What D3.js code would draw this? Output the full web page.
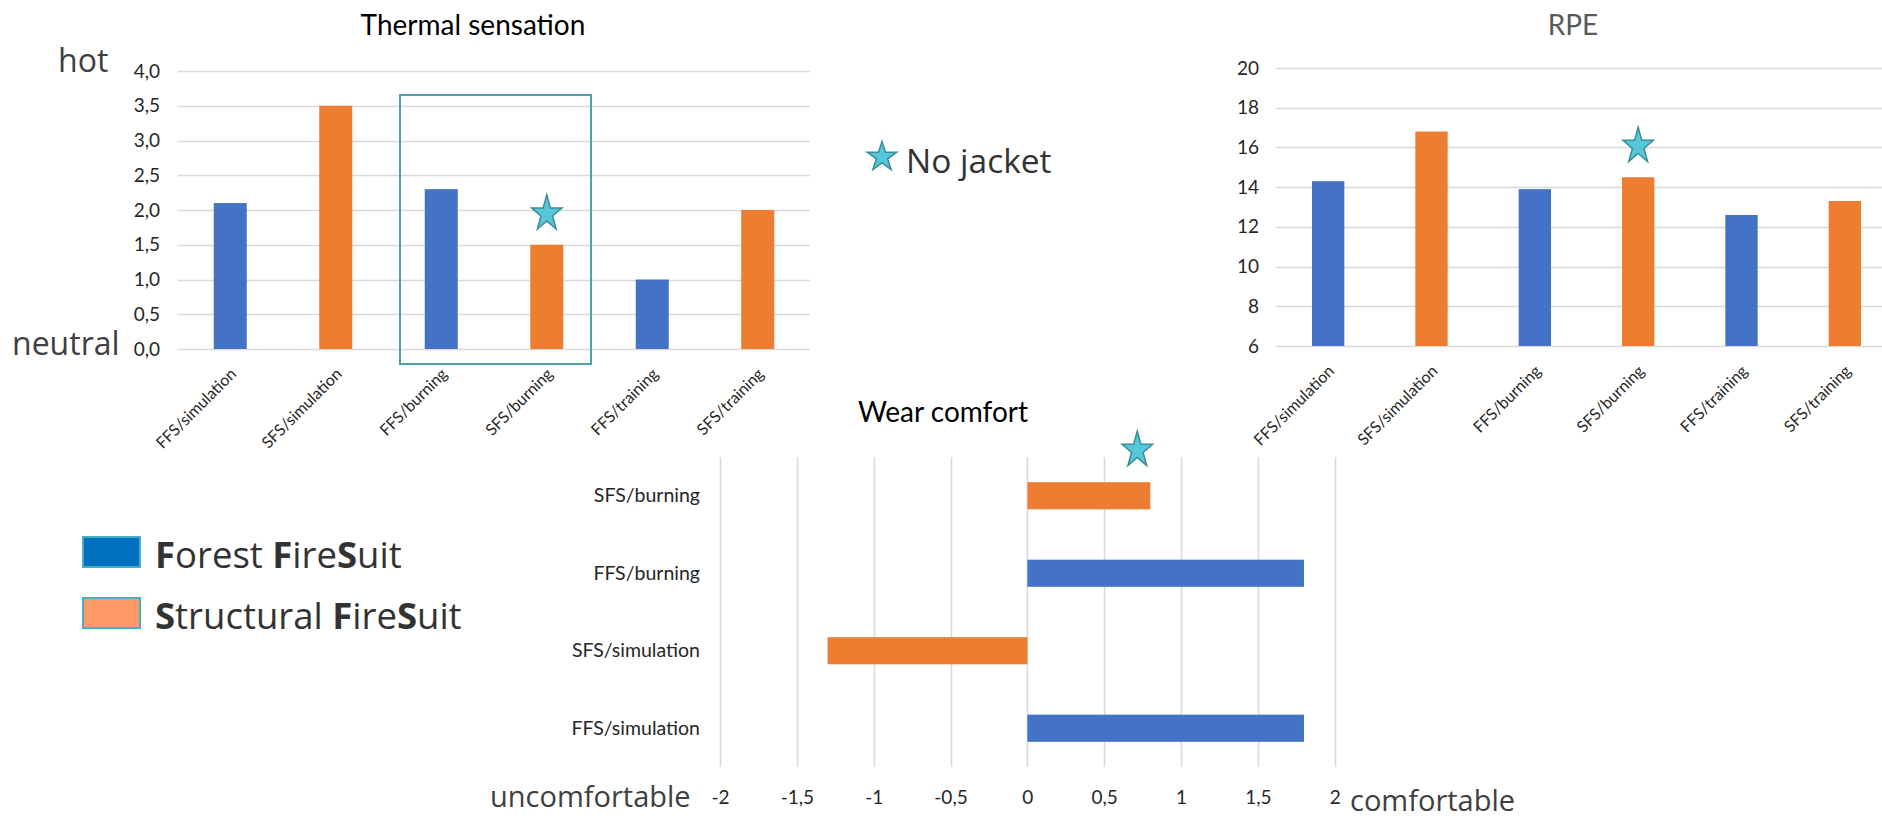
<!DOCTYPE html>
<html>
<head>
<meta charset="utf-8">
<script src="https://cdn.jsdelivr.net/npm/d3@7"></script>
<style>
  html, body { margin: 0; padding: 0; background: #fff; }
  svg { display: block; }
</style>
</head>
<body>
<svg id="chart" width="1882" height="819"></svg>
<script>
// ---- data ----
const thermalCats = ["FFS/simulation", "SFS/simulation", "FFS/burning", "SFS/burning", "FFS/training", "SFS/training"];
const thermalValues = [2.1, 3.5, 2.3, 1.5, 1.0, 2.0];
const thermalTicks = [0, 0.5, 1, 1.5, 2, 2.5, 3, 3.5, 4];

const rpeCats = ["FFS/simulation", "SFS/simulation", "FFS/burning", "SFS/burning", "FFS/training", "SFS/training"];
const rpeValues = [14.3, 16.8, 13.9, 14.5, 12.6, 13.3];
const rpeTicks = [6, 8, 10, 12, 14, 16, 18, 20];

const comfortCats = ["FFS/simulation", "SFS/simulation", "FFS/burning", "SFS/burning"];
const comfortValues = [1.8, -1.3, 1.8, 0.8];
const comfortTicks = [-2, -1.5, -1, -0.5, 0, 0.5, 1, 1.5, 2];

const noJacketCat = "SFS/burning";
const legendItems = [
  { parts: [["F", true], ["orest ", false], ["F", true], ["ire", false], ["S", true], ["uit", false]], fill: "#0070C0" },
  { parts: [["S", true], ["tructural ", false], ["F", true], ["ire", false], ["S", true], ["uit", false]], fill: "#FF9966" }
];

// ---- styles ----
const BLUE = "#4472C4", ORANGE = "#ED7D31", GRID = "#D9D9D9";
const STAR_FILL = "#56C7D8", STAR_STROKE = "#3A8E9C";
const chartFont = "Lato, 'Open Sans', sans-serif";
const noteFont = "'Open Sans', 'Noto Sans', sans-serif";
const suitColor = c => c.startsWith("FFS") ? BLUE : ORANGE;

const loc = d3.formatLocale({ decimal: ",", thousands: ".", grouping: [3], currency: ["", ""], minus: "-" });
const fmt1 = loc.format(".1f");
const fmtG = d => loc.format("~g")(d);

const svg = d3.select("#chart");

// five-point star, optionally stretched vertically
function starPath(cx, cy, rx, ry) {
  const pts = [];
  for (let i = 0; i < 10; i++) {
    const a = -Math.PI / 2 + i * Math.PI / 5;
    const k = i % 2 === 0 ? 1 : 0.382;
    pts.push([cx + Math.cos(a) * rx * k, cy + Math.sin(a) * ry * k]);
  }
  return d3.line()(pts) + "Z";
}
function drawStar(g, cx, cy, rx, ry) {
  g.append("path").attr("d", starPath(cx, cy, rx, ry))
    .attr("fill", STAR_FILL).attr("stroke", STAR_STROKE).attr("stroke-width", 1.5)
    .attr("stroke-linejoin", "miter");
}

// vertical column chart with rotated category labels
function columnChart(opt) {
  const g = svg.append("g");
  const x = d3.scaleBand().domain(opt.cats).range([opt.x0, opt.x1]).padding(0);
  const y = d3.scaleLinear().domain(opt.domain).range([opt.yBottom, opt.yTop]);
  const barW = x.bandwidth() * 0.313;

  // horizontal gridlines
  g.append("g").selectAll("line").data(opt.ticks).join("line")
    .attr("x1", opt.x0).attr("x2", opt.gridEnd)
    .attr("y1", d => Math.round(y(d)) + 0.5).attr("y2", d => Math.round(y(d)) + 0.5)
    .attr("stroke", GRID).attr("stroke-width", 1.6);

  // value axis labels
  const ya = d3.axisLeft(y).tickValues(opt.ticks).tickFormat(opt.format).tickSize(0).tickPadding(0);
  const yg = g.append("g").attr("transform", `translate(${opt.labelRight},0)`).call(ya);
  yg.select(".domain").remove();
  yg.selectAll("text").attr("font-family", chartFont).attr("font-size", 19).attr("fill", "#262626");

  // bars
  g.append("g").selectAll("rect").data(opt.values).join("rect")
    .attr("x", (d, i) => x(opt.cats[i]) + (x.bandwidth() - barW) / 2)
    .attr("width", barW)
    .attr("y", d => y(d))
    .attr("height", d => y(opt.domain[0]) - y(d))
    .attr("fill", (d, i) => suitColor(opt.cats[i]));

  // rotated category labels
  g.append("g").selectAll("text").data(opt.cats).join("text")
    .attr("transform", d => `translate(${x(d) + x.bandwidth() / 2 + 7},${opt.yBottom + 26}) rotate(-45)`)
    .attr("text-anchor", "end")
    .attr("font-family", chartFont).attr("font-size", 16).attr("fill", "#262626")
    .text(d => d);

  // title
  g.append("text").attr("x", opt.titleX).attr("y", opt.titleY)
    .attr("text-anchor", "middle").attr("font-family", chartFont)
    .attr("font-size", 28).attr("fill", opt.titleColor).text(opt.title);

  // no-jacket marker
  const i = opt.cats.indexOf(noJacketCat);
  drawStar(g, x(noJacketCat) + x.bandwidth() / 2, y(opt.values[i]) - 31, 16, 19);
  return { g, x, y };
}

// ---- Thermal sensation ----
const thermal = columnChart({
  cats: thermalCats, values: thermalValues, ticks: thermalTicks, domain: [0, 4],
  x0: 177.5, x1: 810.5, gridEnd: 810, yBottom: 349, yTop: 71, labelRight: 160,
  format: fmt1, title: "Thermal sensation", titleX: 473, titleY: 35, titleColor: "#000"
});
// outline round the burning pair
thermal.g.append("rect").attr("x", 400).attr("y", 95)
  .attr("width", 191).attr("height", 269)
  .attr("fill", "none").attr("stroke", "#4AA3B0").attr("stroke-width", 2);

svg.append("text").attr("x", 58).attr("y", 72).attr("font-family", noteFont)
  .attr("font-size", 32).attr("fill", "#404040").text("hot");
svg.append("text").attr("x", 12).attr("y", 355).attr("font-family", noteFont)
  .attr("font-size", 32).attr("fill", "#404040").text("neutral");

// ---- RPE ----
columnChart({
  cats: rpeCats, values: rpeValues, ticks: rpeTicks, domain: [6, 20],
  x0: 1276.5, x1: 1896.5, gridEnd: 1882, yBottom: 346, yTop: 68, labelRight: 1259,
  format: d => d, title: "RPE", titleX: 1573, titleY: 35, titleColor: "#595959"
});

// ---- Wear comfort ----
{
  const g = svg.append("g");
  const x = d3.scaleLinear().domain([-2, 2]).range([720, 1334.7]);
  const y = d3.scaleBand().domain(comfortCats.slice().reverse()).range([457, 767]).padding(0);
  const barH = y.bandwidth() * 0.35;

  g.append("g").selectAll("line").data(comfortTicks).join("line")
    .attr("x1", d => Math.round(x(d)) + 0.5).attr("x2", d => Math.round(x(d)) + 0.5)
    .attr("y1", 457).attr("y2", 767)
    .attr("stroke", GRID).attr("stroke-width", 1.6);

  const xa = d3.axisBottom(x).tickValues(comfortTicks).tickFormat(fmtG).tickSize(0).tickPadding(0);
  const xg = g.append("g").attr("transform", "translate(0,790)").call(xa);
  xg.select(".domain").remove();
  xg.selectAll("text").attr("font-family", chartFont).attr("font-size", 19).attr("fill", "#262626");

  g.append("g").selectAll("rect").data(comfortValues).join("rect")
    .attr("x", d => x(Math.min(0, d)))
    .attr("width", d => Math.abs(x(d) - x(0)))
    .attr("y", (d, i) => y(comfortCats[i]) + (y.bandwidth() - barH) / 2)
    .attr("height", barH)
    .attr("fill", (d, i) => suitColor(comfortCats[i]));

  const ya = d3.axisLeft(y).tickSize(0).tickPadding(0);
  const yg = g.append("g").attr("transform", "translate(700,0)").call(ya);
  yg.select(".domain").remove();
  yg.selectAll("text").attr("font-family", chartFont).attr("font-size", 19.5).attr("fill", "#262626");

  g.append("text").attr("x", 943).attr("y", 422).attr("text-anchor", "middle")
    .attr("font-family", chartFont).attr("font-size", 28).attr("fill", "#000").text("Wear comfort");

  const i = comfortCats.indexOf(noJacketCat);
  drawStar(g, x(comfortValues[i]) - 13, y(noJacketCat) + (y.bandwidth() - barH) / 2 - 32, 16, 19);

  svg.append("text").attr("x", 490).attr("y", 807).attr("font-family", noteFont)
    .attr("font-size", 29).attr("fill", "#404040").text("uncomfortable");
  svg.append("text").attr("x", 1350).attr("y", 811).attr("font-family", noteFont)
    .attr("font-size", 29).attr("fill", "#404040").text("comfortable");
}

// ---- note and legend ----
drawStar(svg, 882, 157, 15.5, 15.5);
svg.append("text").attr("x", 906).attr("y", 173).attr("font-family", noteFont)
  .attr("font-size", 33.5).attr("fill", "#333").text("No jacket");

const leg = svg.append("g");
legendItems.forEach((item, k) => {
  const top = 537 + k * 61;
  leg.append("rect").attr("x", 83).attr("y", top).attr("width", 57).attr("height", 30)
    .attr("fill", item.fill).attr("stroke", "#4BACC6").attr("stroke-width", 2);
  const t = leg.append("text").attr("x", 155).attr("y", top + 31)
    .attr("font-family", noteFont).attr("font-size", 36.5).attr("fill", "#333");
  item.parts.forEach(([s, b]) => t.append("tspan").attr("font-weight", b ? "bold" : "normal").text(s));
});
</script>
</body>
</html>
